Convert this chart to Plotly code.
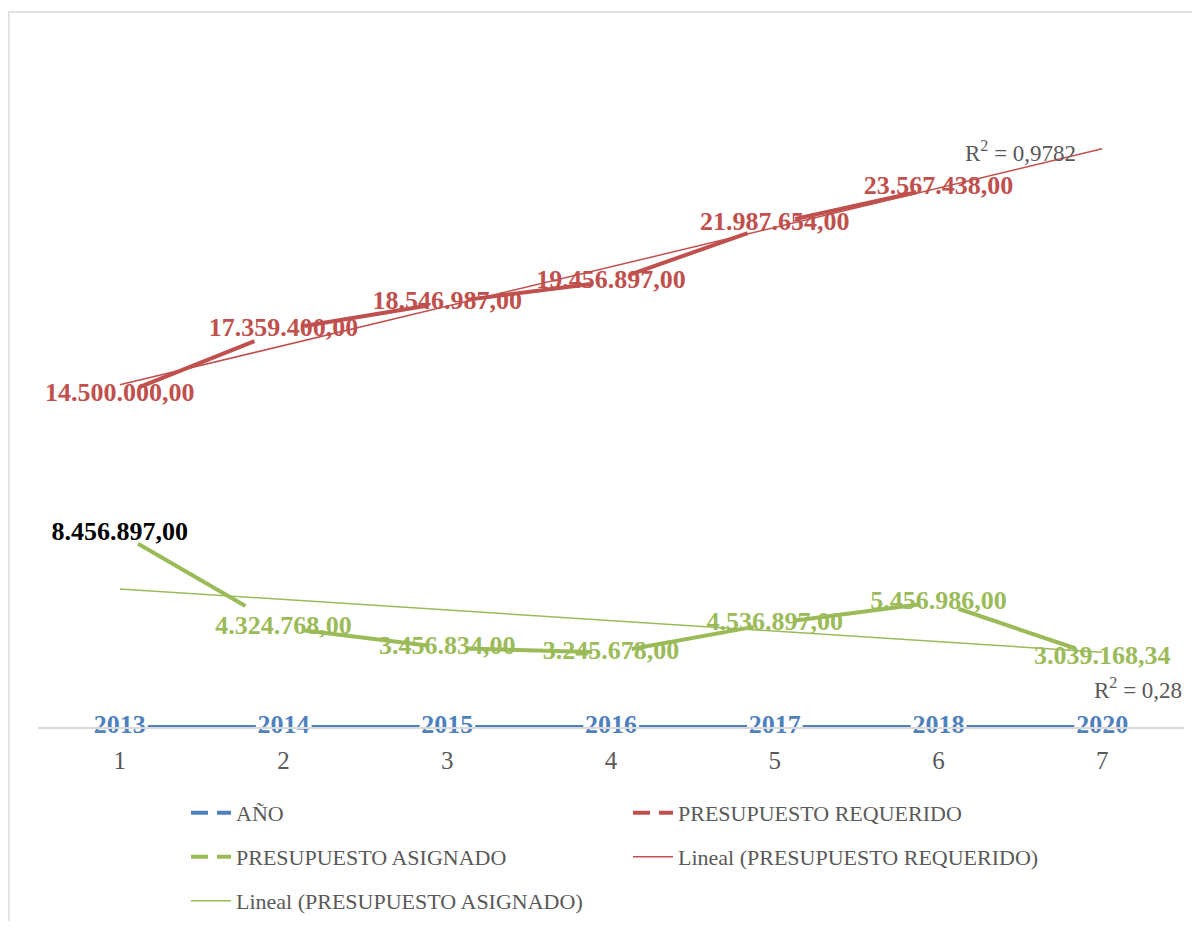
import numpy as np
import plotly.graph_objects as go

categories = [1, 2, 3, 4, 5, 6, 7]
anio = [2013, 2014, 2015, 2016, 2017, 2018, 2020]
requerido = [14500000.00, 17359400.00, 18546987.00, 19456897.00, 21987654.00, 23567438.00, None]
asignado = [8456897.00, 4324768.00, 3456834.00, 3245678.00, 4536897.00, 5456986.00, 3039168.34]
r2_labels = ["R<sup>2</sup> = 0,9782", "R<sup>2</sup> = 0,28"]
legend_names = ["AÑO", "PRESUPUESTO REQUERIDO", "PRESUPUESTO ASIGNADO",
                "Lineal (PRESUPUESTO REQUERIDO)", "Lineal (PRESUPUESTO ASIGNADO)"]

BLUE = "#4F81BD"
RED = "#C0504D"
GREEN = "#9BBB59"
GRAY = "#595959"
FONT = "Liberation Serif"

# page body has an 8px margin: figure coordinates = screen coordinates - 8
OFF = 8
PL, PT, PW, PH = 38 - OFF, 40 - OFF, 1146, 687
FW, FH = 1184, 913


def fmt(v):
    s = f"{v:,.2f}"
    return s.replace(",", "X").replace(".", ",").replace("X", ".")


def px_x(sx):
    return (sx - OFF - PL) / PW


def px_y(sy):
    return (PT + PH - (sy - OFF)) / PH


fig = go.Figure()

LBL = dict(family=FONT, size=26, weight="bold")
rq_x = [c for c, v in zip(categories, requerido) if v is not None]
rq_y = [v for v in requerido if v is not None]

# red / green data labels (under the lines)
fig.add_trace(go.Scatter(x=rq_x, y=rq_y, mode="text", text=[fmt(v) for v in rq_y],
                         textfont=dict(LBL, color=RED), cliponaxis=False,
                         showlegend=False, hoverinfo="skip"))
green_colors = ["#000000"] + [GREEN] * (len(asignado) - 1)
fig.add_trace(go.Scatter(x=categories, y=asignado, mode="text", text=[fmt(v) for v in asignado],
                         textfont=dict(LBL, color=green_colors), cliponaxis=False,
                         showlegend=False, hoverinfo="skip"))


# dashed series lines, one segment at a time (dash restarts at each point)
def add_segments(xs, ys, color, dash):
    for i in range(len(xs) - 1):
        if ys[i] is None or ys[i + 1] is None:
            continue
        fig.add_trace(go.Scatter(x=[xs[i], xs[i + 1]], y=[ys[i], ys[i + 1]], mode="lines",
                                 line=dict(color=color, width=4, dash=dash),
                                 cliponaxis=False, showlegend=False, hoverinfo="skip"))


add_segments(categories, anio, BLUE, "0px,28px,108px,300px")
add_segments(categories, requerido, RED, "0px,21px,124px,300px")
add_segments(categories, asignado, GREEN, "0px,21px,124px,300px")

# blue labels on top of the blue line and axis line
fig.add_trace(go.Scatter(x=categories, y=anio, mode="text", text=[str(a) for a in anio],
                         textfont=dict(LBL, color=BLUE,
                                       shadow="2px 0px 0px white, -2px 0px 0px white, "
                                              "0px 2px 0px white, 0px -2px 0px white"),
                         cliponaxis=False, showlegend=False, hoverinfo="skip"))

# trendlines
cx = np.array(categories, dtype=float)
p_r = np.polyfit(np.array(rq_x, float), np.array(rq_y, float), 1)
p_g = np.polyfit(cx, np.array(asignado, float), 1)
tx = [cx[0], cx[-1]]
fig.add_trace(go.Scatter(x=tx, y=np.polyval(p_r, tx), mode="lines",
                         line=dict(color=RED, width=1.5), showlegend=False, hoverinfo="skip"))
fig.add_trace(go.Scatter(x=tx, y=np.polyval(p_g, tx), mode="lines",
                         line=dict(color=GREEN, width=1.5), showlegend=False, hoverinfo="skip"))

# legend entries, one legend per row
LEG_DASH = "17px,9px"
styles = [(BLUE, LEG_DASH, 4, "legend"), (RED, LEG_DASH, 4, "legend"),
          (GREEN, LEG_DASH, 4, "legend2"), (RED, "solid", 1.5, "legend2"),
          (GREEN, "solid", 1.5, "legend3")]
for nm, (col, dash, w, lg) in zip(legend_names, styles):
    fig.add_trace(go.Scatter(x=[None], y=[None], mode="lines", name=nm, legend=lg,
                             line=dict(color=col, width=w, dash=dash)))

fig.add_annotation(x=px_x(1078), y=px_y(151), xref="paper", yref="paper",
                   text=r2_labels[0], showarrow=False, xanchor="right", yanchor="middle",
                   font=dict(family=FONT, size=23, color=GRAY))
fig.add_annotation(x=px_x(1184), y=px_y(688), xref="paper", yref="paper",
                   text=r2_labels[1], showarrow=False, xanchor="right", yanchor="middle",
                   font=dict(family=FONT, size=23, color=GRAY))

# chart border
fig.add_shape(type="rect", xref="paper", yref="paper",
              x0=px_x(9), x1=1.3, y0=-1.0, y1=px_y(12),
              line=dict(color="#D9D9D9", width=1.5), layer="below")


def leg(row_center):
    return dict(orientation="h", traceorder="normal", x=px_x(186), xanchor="left",
                y=px_y(row_center - 21), yanchor="top", entrywidth=387,
                font=dict(family=FONT, size=22, color=GRAY), itemwidth=40,
                bgcolor="rgba(0,0,0,0)")


fig.update_layout(
    width=FW, height=FH,
    margin=dict(l=PL, r=FW - PL - PW, t=PT, b=FH - PT - PH, autoexpand=False),
    paper_bgcolor="white", plot_bgcolor="white",
    xaxis=dict(range=[0.5, 7.5], tickvals=categories, ticktext=[str(c) for c in categories],
               showgrid=False, zeroline=False, showline=True, linecolor="#D9D9D9", linewidth=1.5,
               ticks="", ticklabelstandoff=10, tickfont=dict(family=FONT, size=25, color=GRAY)),
    yaxis=dict(range=[0, 30000000], visible=False, showgrid=False, zeroline=False),
    legend=leg(813), legend2=leg(857), legend3=leg(901),
    showlegend=True,
)

fig.write_html("out.html")
